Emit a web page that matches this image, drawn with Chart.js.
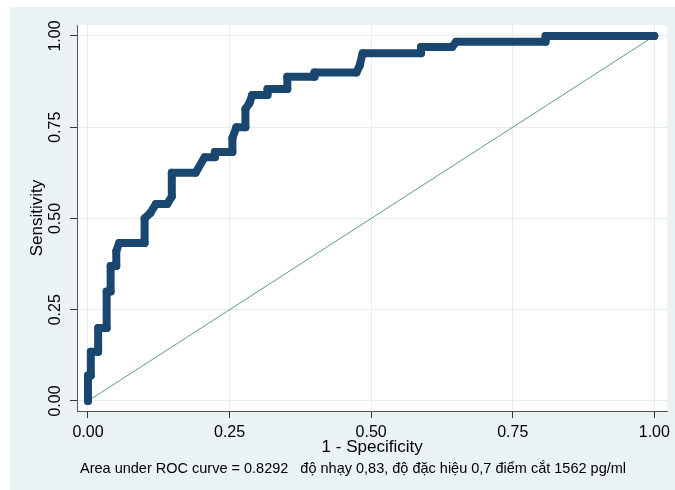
<!DOCTYPE html>
<html>
<head>
<meta charset="utf-8">
<script src="https://cdn.jsdelivr.net/npm/chart.js@4.4.1/dist/chart.umd.min.js"></script>
<style>
    html, body { margin: 0; padding: 0; background: #fff; }
    #wrap { width: 675px; height: 490px; }
</style>
</head>
<body>
<div id="wrap"><canvas id="roc" width="675" height="490"></canvas></div>
<script>
// ROC curve corners (1 - specificity, sensitivity)
const fpr = [0, 0, 0.005, 0.005, 0.018, 0.018, 0.033, 0.033, 0.04, 0.04, 0.05, 0.05, 0.055, 0.10,
    0.10, 0.11, 0.12, 0.14, 0.148, 0.148, 0.19, 0.206, 0.224, 0.224, 0.255, 0.255, 0.262, 0.278,
    0.278, 0.285, 0.29, 0.317, 0.317, 0.352, 0.352, 0.40, 0.40, 0.474, 0.48, 0.485, 0.588, 0.588,
    0.643, 0.65, 0.808, 0.808, 1.0];
const tpr = [0, 0.07, 0.07, 0.135, 0.135, 0.20, 0.20, 0.30, 0.30, 0.37, 0.37, 0.41, 0.433, 0.433,
    0.50, 0.515, 0.54, 0.54, 0.56, 0.625, 0.625, 0.668, 0.668, 0.682, 0.682, 0.72, 0.75, 0.75,
    0.80, 0.816, 0.838, 0.838, 0.855, 0.855, 0.888, 0.888, 0.90, 0.90, 0.92, 0.953, 0.953, 0.97,
    0.97, 0.984, 0.984, 1.0, 1.0];

// diagonal reference line
const refX = [0, 1];
const refY = [0, 1];

const tickValues = [0, 0.25, 0.5, 0.75, 1];
const tickLabels = ['0.00', '0.25', '0.50', '0.75', '1.00'];

const xTitle = '1 - Specificity';
const yTitle = 'Sensitivity';
const noteArea = 'Area under ROC curve = 0.8292';
const noteCut = 'độ nhạy 0,83, độ đặc hiệu 0,7 điểm cắt 1562 pg/ml';

(function() {
    'use strict';

    const FONT = '"Liberation Sans", Arial, sans-serif';
    const NAVY = '#1a476f';
    const PANEL = '#eaf2f3';

    // panel + white plot region, like Stata s2color
    const background = {
        id: 'background',
        beforeDraw(chart) {
            const { ctx, chartArea: a } = chart;
            ctx.save();
            ctx.fillStyle = '#fff';
            ctx.fillRect(0, 0, chart.width, chart.height);
            ctx.fillStyle = PANEL;
            ctx.fillRect(10, 7, chart.width - 10, chart.height - 7);
            ctx.fillStyle = '#fff';
            ctx.fillRect(a.left, a.top, a.right - a.left, a.bottom - a.top);
            ctx.restore();
        }
    };

    // vertical y tick labels and the note line
    const extras = {
        id: 'extras',
        afterDraw(chart) {
            const { ctx } = chart;
            const y = chart.scales.y;
            ctx.save();
            ctx.fillStyle = '#000';
            ctx.font = '16px ' + FONT;
            ctx.textAlign = 'center';
            ctx.textBaseline = 'middle';
            tickValues.forEach((v, i) => {
                ctx.save();
                ctx.translate(56, y.getPixelForValue(v));
                ctx.rotate(-Math.PI / 2);
                ctx.fillText(tickLabels[i], 0, 0);
                ctx.restore();
            });
            ctx.font = '14.5px ' + FONT;
            ctx.textAlign = 'left';
            ctx.fillText(noteArea, 80, 469);
            ctx.fillText(noteCut, 80 + ctx.measureText(noteArea).width + 12, 469);
            ctx.restore();
        }
    };

    const setTicks = scale => {
        scale.ticks = tickValues.map(v => ({ value: v }));
    };

    new Chart(document.getElementById('roc'), {
        type: 'line',
        data: {
            datasets: [
                {
                    label: 'ROC',
                    data: fpr.map((x, i) => ({ x: x, y: tpr[i] })),
                    borderColor: NAVY,
                    backgroundColor: NAVY,
                    borderWidth: 8,
                    borderJoinStyle: 'round',
                    borderCapStyle: 'round',
                    pointRadius: 4,
                    pointBorderWidth: 0,
                    pointBackgroundColor: NAVY,
                    tension: 0,
                    fill: false
                },
                {
                    label: 'Reference',
                    data: refX.map((x, i) => ({ x: x, y: refY[i] })),
                    borderColor: '#5e9c8c',
                    borderWidth: 1,
                    pointRadius: 0,
                    tension: 0,
                    fill: false
                }
            ]
        },
        options: {
            responsive: false,
            animation: false,
            devicePixelRatio: 1,
            layout: { padding: { left: 10, right: 6, top: 25, bottom: 0 } },
            plugins: {
                legend: { display: false },
                tooltip: { enabled: false }
            },
            scales: {
                x: {
                    type: 'linear',
                    min: -0.01937,
                    max: 1.0229,
                    afterBuildTicks: setTicks,
                    afterFit: s => { s.height = 79; },
                    grid: { color: '#e6eef0', lineWidth: 1, tickLength: 7, tickColor: '#333' },
                    border: { color: '#555', width: 1 },
                    ticks: {
                        autoSkip: false,
                        maxRotation: 0,
                        padding: 5,
                        color: '#000',
                        font: { family: FONT, size: 16 },
                        callback: v => tickLabels[tickValues.indexOf(v)]
                    },
                    title: {
                        display: true,
                        text: xTitle,
                        color: '#000',
                        font: { family: FONT, size: 17 },
                        padding: { top: 0, bottom: 32.8 }
                    }
                },
                y: {
                    type: 'linear',
                    min: -0.0274,
                    max: 1.0301,
                    afterBuildTicks: setTicks,
                    afterFit: s => { s.width = 67; },
                    grid: { color: '#e6eef0', lineWidth: 1, tickLength: 7, tickColor: '#333' },
                    border: { color: '#555', width: 1 },
                    ticks: { display: false },
                    title: {
                        display: true,
                        text: yTitle,
                        color: '#000',
                        font: { family: FONT, size: 17 },
                        padding: { top: 16.8, bottom: 0 }
                    }
                }
            }
        },
        plugins: [background, extras]
    });
})();
</script>
</body>
</html>
